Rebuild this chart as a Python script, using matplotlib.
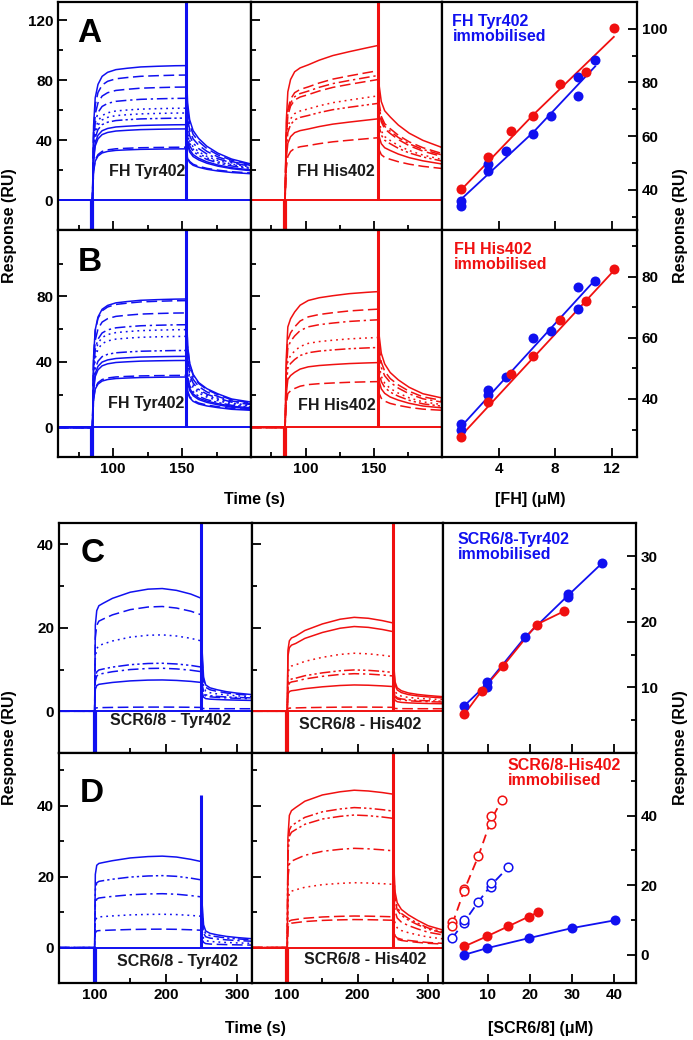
import numpy as np
import matplotlib
matplotlib.use('Agg')
import matplotlib.pyplot as plt
from matplotlib.ticker import FixedLocator

plt.rcParams['font.family'] = ['Liberation Sans', 'DejaVu Sans']
plt.rcParams['font.weight'] = 'bold'
plt.rcParams['axes.linewidth'] = 1.6

BLUE = '#1010f0'
RED = '#f01010'
INK = '#1a1a1a'

# ---------------- sensorgram data (top block, FH) ----------------
fh_t_assoc = [85, 85.8, 87, 89, 92, 96, 102, 110, 120, 132, 145, 153]
fh_t_diss = [153, 154, 155.5, 158, 162, 168, 176, 186, 200]

a_tyr_shape = [0, 0.55, 0.76, 0.86, 0.92, 0.95, 0.97, 0.98, 0.99, 0.995, 0.999, 1.0]
a_tyr_decay = [1, 0.62, 0.45, 0.34, 0.26, 0.18, 0.11, 0.05, 0]
a_tyr_plateau = [89.6, 83.3, 75.3, 67.8, 61.2, 58, 54.6, 50.2, 47.4, 35.2, 34.1]
a_tyr_tail = [24, 23.5, 23, 22.5, 22, 21.5, 21, 20, 19.5, 18, 17.5]
a_tyr_style = ['-', '--', '--', '-.', ':', ':', '-..', '-', '-', '--', '-']

a_his_shape = [0, 0.5, 0.7, 0.78, 0.83, 0.855, 0.875, 0.905, 0.935, 0.96, 0.985, 1.0]
a_his_decay = [1, 0.6, 0.45, 0.36, 0.3, 0.22, 0.14, 0.07, 0]
a_his_plateau = [103, 86.2, 83, 80.3, 69.4, 64.4, 54.1, 41.5]
a_his_tail = [35, 31, 30, 29, 27, 26, 24, 21]
a_his_style = ['-', '--', '-.', '--', ':', '-..', '-', '--']

b_tyr_shape = [0, 0.55, 0.76, 0.86, 0.92, 0.95, 0.97, 0.98, 0.99, 0.995, 0.999, 1.0]
b_tyr_decay = [1, 0.55, 0.38, 0.27, 0.19, 0.13, 0.08, 0.03, 0]
b_tyr_plateau = [78.4, 77.4, 69.9, 62.7, 59.7, 55.6, 47, 43.4, 40.9, 31.8, 30.8]
b_tyr_tail = [15.5, 15, 14.5, 14, 13.5, 13, 12.5, 12, 11.5, 11, 10.5]
b_tyr_style = ['-', '--', '--', '-.', ':', ':', '-..', '-', '-', '--', '-']

b_his_shape = [0, 0.5, 0.74, 0.8, 0.85, 0.9, 0.935, 0.955, 0.97, 0.985, 0.995, 1.0]
b_his_decay = [1, 0.58, 0.42, 0.32, 0.24, 0.17, 0.1, 0.04, 0]
b_his_plateau = [82.9, 72.2, 65.7, 54.9, 48.8, 39.6, 28]
b_his_tail = [18, 16.5, 15.5, 14, 13, 12, 10.5]
b_his_style = ['-', '--', '-.', ':', '-..', '-', '--']

# ---------------- sensorgram data (bottom block, SCR6/8) ----------------
scr_t_assoc = [100, 101, 103, 106, 112, 125, 150, 175, 195, 215, 235, 250]
scr_t_diss = [250, 251, 253, 256, 262, 272, 285, 300, 320]

c_tyr_shape = [0, 0.7, 0.82, 0.86, 0.88, 0.92, 0.97, 0.995, 1.0, 0.985, 0.955, 0.92]
c_tyr_decay = [1, 0.45, 0.18, 0.1, 0.07, 0.05, 0.03, 0.015, 0]
c_tyr_plateau = [29.4, 25.1, 18.3, 11.5, 10.3, 7.5, 1.0]
c_tyr_tail = [4.0, 3.8, 3.5, 3.2, 3.0, 2.6, 0.6]
c_tyr_style = ['-', '--', ':', '-..', '-.', '-', '--']

c_his_shape = [0, 0.65, 0.75, 0.78, 0.8, 0.86, 0.93, 0.98, 1.0, 0.99, 0.965, 0.94]
c_his_decay = [1, 0.45, 0.2, 0.12, 0.08, 0.05, 0.03, 0.015, 0]
c_his_plateau = [22.5, 20.3, 13.9, 9.9, 9.0, 6.3, 1.0]
c_his_tail = [3.5, 3.2, 2.8, 2.4, 2.2, 1.8, 0.6]
c_his_style = ['-', '-', ':', '-..', '-.', '-', '--']

d_tyr_shape = [0, 0.8, 0.9, 0.92, 0.93, 0.95, 0.98, 0.995, 1.0, 0.99, 0.965, 0.94]
d_tyr_decay = [1, 0.45, 0.18, 0.1, 0.07, 0.05, 0.03, 0.015, 0]
d_tyr_plateau = [25.8, 20.3, 15.2, 9.4, 5.2]
d_tyr_tail = [2.5, 2.2, 1.8, 1.2, 0.7]
d_tyr_style = ['-', '-..', '-.', ':', '--']

d_his_shape = [0, 0.7, 0.84, 0.87, 0.89, 0.93, 0.97, 0.99, 1.0, 0.995, 0.985, 0.975]
d_his_decay = [1, 0.5, 0.28, 0.2, 0.15, 0.11, 0.07, 0.03, 0]
d_his_plateau = [44.4, 39.5, 37.4, 28, 18.3, 8.9, 7.9]
d_his_tail = [5, 4.5, 4.2, 3.6, 2.5, 1.2, 1.0]
d_his_style = ['-', '-..', '-..', '-.', ':', '--', '--']

# ---------------- concentration series ----------------
fhA_tyr_x = [1.36, 1.36, 3.28, 3.28, 4.55, 6.47, 7.72, 9.61, 9.61, 10.84]
fhA_tyr_y = [35.8, 33.9, 49.6, 46.9, 54.3, 60.7, 67.5, 82.2, 75.0, 88.5]
fhA_his_x = [1.36, 3.28, 4.86, 6.47, 8.33, 10.2, 12.16]
fhA_his_y = [40.4, 52.2, 62.0, 67.6, 79.5, 83.9, 100.2]
fitA_tyr_x, fitA_tyr_y = [1.36, 6.47, 10.84], [36.5, 61.5, 86]
fitA_his_x, fitA_his_y = [1.36, 6.47, 12.16], [40, 68, 97]

fhB_tyr_x = [1.36, 1.36, 3.28, 3.28, 4.55, 6.47, 7.72, 9.61, 9.61, 10.84]
fhB_tyr_y = [31.7, 30.0, 42.9, 41.4, 47.2, 59.8, 62.3, 76.5, 69.3, 78.6]
fhB_his_x = [1.36, 3.28, 4.86, 6.47, 8.33, 10.2, 12.16]
fhB_his_y = [27.5, 39.0, 48.3, 54.1, 65.8, 72.1, 82.5]
fitB_tyr_x, fitB_tyr_y = [1.36, 10.84], [31, 79]
fitB_his_x, fitB_his_y = [1.36, 12.16], [28, 82]

scrC_tyr_x = [4.45, 9.8, 9.8, 18.9, 29, 29, 37.2]
scrC_tyr_y = [7.2, 10.9, 10.1, 17.7, 24.3, 23.8, 29.0]
scrC_his_x = [4.45, 8.6, 13.7, 21.6, 28]
scrC_his_y = [5.9, 9.5, 13.3, 19.6, 21.6]
fitC_tyr_x, fitC_tyr_y = [4.45, 9.8, 18.9, 29, 37.2], [7.2, 10.5, 17.7, 24.0, 29.0]
fitC_his_x, fitC_his_y = [4.45, 8.6, 13.7, 21.6, 28], [5.9, 9.5, 13.3, 19.6, 21.6]

scrD_his_open_x = [1.6, 1.6, 4.45, 4.45, 7.77, 10.8, 10.8, 13.4]
scrD_his_open_y = [9.5, 8.2, 18.9, 18.3, 28.3, 37.7, 39.8, 44.6]
scrD_tyr_open_x = [1.6, 4.45, 4.45, 7.77, 10.8, 10.8, 14.9]
scrD_tyr_open_y = [4.8, 9.1, 9.9, 15.2, 19.4, 20.6, 25.2]
scrD_his_x = [4.45, 9.8, 14.9, 19.8, 21.9]
scrD_his_y = [2.4, 5.3, 8.2, 11.0, 12.2]
scrD_tyr_x = [4.45, 9.8, 19.8, 30.1, 40.1]
scrD_tyr_y = [0.0, 1.9, 4.8, 7.7, 9.9]
lineD_his_open_x, lineD_his_open_y = [1.6, 4.45, 7.77, 10.8, 13.4], [8.8, 18.6, 28.3, 38.7, 44.6]
lineD_tyr_open_x, lineD_tyr_open_y = [1.6, 4.45, 7.77, 10.8, 14.9], [4.8, 9.5, 15.2, 20.0, 25.2]

LS = {'-': '-', '--': (0, (7, 3)), '-.': (0, (7, 2.5, 1.5, 2.5)),
      ':': (0, (1.2, 2.6)), '-..': (0, (7, 2, 1.5, 2, 1.5, 2))}

W, H = 693, 1040
fig = plt.figure(figsize=(6.93, 10.4), dpi=100)


def add_ax(x0, y0, x1, y1):
    return fig.add_axes([x0 / W, 1 - y1 / H, (x1 - x0) / W, (y1 - y0) / H])


def sensorgram(ax, color, t_start, t_end, ta, shape, td, decay, plateaus, tails, styles,
               spike_top, dip_bottom):
    ax.plot([t_start, t_end], [0, 0], color=color, lw=1.4)
    shape = np.array(shape)
    decay = np.array(decay)
    for P, R, ls in zip(plateaus, tails, styles):
        a = P * shape
        d = R + (a[-1] - R) * decay
        t = np.concatenate([[t_start], ta, td[1:]])
        y = np.concatenate([[0], a, d[1:]])
        ax.plot(t, y, color=color, lw=1.1, ls=LS[ls])
    ax.plot([td[0], td[0]], [0, spike_top], color=color, lw=2.2, solid_capstyle='butt')
    ax.plot([ta[0], ta[0]], [0, dip_bottom], color=color, lw=3, solid_capstyle='butt')


def style_ax(ax, side='left', labels=True):
    ax.tick_params(which='both', direction='in', width=1.3, labelsize=11, top=False,
                   left=(side == 'left'), right=(side == 'right'),
                   labelleft=(side == 'left' and labels), labelright=(side == 'right'))
    ax.tick_params(which='major', length=6.5)
    ax.tick_params(which='minor', length=3.5)


# ---------------- top block ----------------
axA1 = add_ax(58, 2, 251, 230)
axA2 = add_ax(251, 2, 442, 230)
axA3 = add_ax(442, 2, 637, 230)
axB1 = add_ax(58, 230, 251, 457)
axB2 = add_ax(251, 230, 442, 457)
axB3 = add_ax(442, 230, 637, 457)

sensorgram(axA1, BLUE, 60, 200, fh_t_assoc, a_tyr_shape, fh_t_diss, a_tyr_decay,
           a_tyr_plateau, a_tyr_tail, a_tyr_style, 135, -25)
sensorgram(axA2, RED, 60, 200, fh_t_assoc, a_his_shape, fh_t_diss, a_his_decay,
           a_his_plateau, a_his_tail, a_his_style, 135, -25)
sensorgram(axB1, BLUE, 60, 200, fh_t_assoc, b_tyr_shape, fh_t_diss, b_tyr_decay,
           b_tyr_plateau, b_tyr_tail, b_tyr_style, 125, -25)
sensorgram(axB2, RED, 60, 200, fh_t_assoc, b_his_shape, fh_t_diss, b_his_decay,
           b_his_plateau, b_his_tail, b_his_style, 125, -25)

for ax, ylim, majors in [(axA1, (-20, 132), [0, 40, 80, 120]), (axA2, (-20, 132), [0, 40, 80, 120]),
                         (axB1, (-18, 120.5), [0, 40, 80]), (axB2, (-18, 120.5), [0, 40, 80])]:
    ax.set_xlim(60, 200)
    ax.set_ylim(*ylim)
    ax.xaxis.set_major_locator(FixedLocator([100, 150]))
    ax.xaxis.set_minor_locator(FixedLocator([75, 125, 175]))
    ax.yaxis.set_major_locator(FixedLocator(majors))
    ax.yaxis.set_minor_locator(FixedLocator([20, 60, 100]))
    style_ax(ax, 'left', labels=ax in (axA1, axB1))
for ax in (axA1, axA2):
    ax.tick_params(labelbottom=False)

axA1.text(82.5, 111, 'A', fontsize=24, ha='center', va='center', color='black')
axB1.text(83.2, 100.7, 'B', fontsize=24, ha='center', va='center', color='black')
axA1.text(124.5, 19.3, 'FH Tyr402', fontsize=11.5, ha='center', va='center', color=INK)
axA2.text(122.3, 18.7, 'FH His402', fontsize=11.5, ha='center', va='center', color=INK)
axB1.text(124, 14.8, 'FH Tyr402', fontsize=11.5, ha='center', va='center', color=INK)
axB2.text(123, 13.4, 'FH His402', fontsize=11.5, ha='center', va='center', color=INK)

mk = dict(marker='o', ms=7.2, ls='none', mec='none')
axA3.plot(fitA_his_x, fitA_his_y, color=RED, lw=1.3)
axA3.plot(fitA_tyr_x, fitA_tyr_y, color=BLUE, lw=1.3)
axA3.plot(fhA_tyr_x, fhA_tyr_y, color=BLUE, **mk)
axA3.plot(fhA_his_x, fhA_his_y, color=RED, **mk)
axB3.plot(fitB_his_x, fitB_his_y, color=RED, lw=1.3)
axB3.plot(fitB_tyr_x, fitB_tyr_y, color=BLUE, lw=1.3)
axB3.plot(fhB_tyr_x, fhB_tyr_y, color=BLUE, **mk)
axB3.plot(fhB_his_x, fhB_his_y, color=RED, **mk)

axA3.set_ylim(25, 110)
axB3.set_ylim(21, 95.3)
for ax in (axA3, axB3):
    ax.set_xlim(0, 13.8)
    ax.xaxis.set_major_locator(FixedLocator([4, 8, 12]))
    ax.yaxis.set_major_locator(FixedLocator([40, 60, 80, 100]))
    ax.yaxis.set_minor_locator(FixedLocator([30, 50, 70, 90]))
    style_ax(ax, 'right')
axA3.tick_params(labelbottom=False)
axA3.text(0.74, 105.5, 'FH Tyr402\nimmobilised', color=BLUE, fontsize=11.5,
          ha='left', va='top', linespacing=1.0)
axB3.text(0.82, 91.5, 'FH His402\nimmobilised', color=RED, fontsize=11.5,
          ha='left', va='top', linespacing=1.0)

# ---------------- bottom block ----------------
axC1 = add_ax(59, 523, 252, 753)
axC2 = add_ax(252, 523, 443, 753)
axC3 = add_ax(443, 523, 636, 753)
axD1 = add_ax(59, 753, 252, 983)
axD2 = add_ax(252, 753, 443, 983)
axD3 = add_ax(443, 753, 636, 983)

sensorgram(axC1, BLUE, 50, 322, scr_t_assoc, c_tyr_shape, scr_t_diss, c_tyr_decay,
           c_tyr_plateau, c_tyr_tail, c_tyr_style, 50, -12)
sensorgram(axC2, RED, 50, 322, scr_t_assoc, c_his_shape, scr_t_diss, c_his_decay,
           c_his_plateau, c_his_tail, c_his_style, 50, -12)
sensorgram(axD1, BLUE, 50, 322, scr_t_assoc, d_tyr_shape, scr_t_diss, d_tyr_decay,
           d_tyr_plateau, d_tyr_tail, d_tyr_style, 43, -12)
sensorgram(axD2, RED, 50, 322, scr_t_assoc, d_his_shape, scr_t_diss, d_his_decay,
           d_his_plateau, d_his_tail, d_his_style, 60, -12)

for ax, ylim, minors in [(axC1, (-10, 45.1), [10, 30]), (axC2, (-10, 45.1), [10, 30]),
                         (axD1, (-10, 54.9), [10, 30, 50]), (axD2, (-10, 54.9), [10, 30, 50])]:
    ax.set_xlim(50, 321)
    ax.set_ylim(*ylim)
    ax.xaxis.set_major_locator(FixedLocator([100, 200, 300]))
    ax.xaxis.set_minor_locator(FixedLocator([150, 250]))
    ax.yaxis.set_major_locator(FixedLocator([0, 20, 40]))
    ax.yaxis.set_minor_locator(FixedLocator(minors))
    style_ax(ax, 'left', labels=ax in (axC1, axD1))
for ax in (axC1, axC2):
    ax.tick_params(labelbottom=False)

axC1.text(97.7, 37.8, 'C', fontsize=24, ha='center', va='center', color='black')
axD1.text(96.3, 43.6, 'D', fontsize=24, ha='center', va='center', color='black')
axC1.text(206, -2.3, 'SCR6/8 - Tyr402', fontsize=11.5, ha='center', va='center', color=INK)
axC2.text(203, -3.2, 'SCR6/8 - His402', fontsize=11.5, ha='center', va='center', color=INK)
axD1.text(217, -3.9, 'SCR6/8 - Tyr402', fontsize=11.5, ha='center', va='center', color=INK)
axD2.text(210, -3.5, 'SCR6/8 - His402', fontsize=11.5, ha='center', va='center', color=INK)

axC3.plot(fitC_tyr_x, fitC_tyr_y, color=BLUE, lw=1.3)
axC3.plot(fitC_his_x, fitC_his_y, color=RED, lw=1.3)
axC3.plot(scrC_tyr_x, scrC_tyr_y, color=BLUE, **mk)
axC3.plot(scrC_his_x, scrC_his_y, color=RED, **mk)

dash = (0, (5, 3))
axD3.plot(lineD_his_open_x, lineD_his_open_y, color=RED, lw=1.3, ls=dash)
axD3.plot(lineD_tyr_open_x, lineD_tyr_open_y, color=BLUE, lw=1.3, ls=dash)
axD3.plot(scrD_his_x, scrD_his_y, color=RED, lw=1.3, marker='o', ms=7.2, mec='none')
axD3.plot(scrD_tyr_x, scrD_tyr_y, color=BLUE, lw=1.3, marker='o', ms=7.2, mec='none')
axD3.plot(scrD_his_open_x, scrD_his_open_y, ls='none', marker='o', ms=6.2, mfc='white',
          mec=RED, mew=1.1)
axD3.plot(scrD_tyr_open_x, scrD_tyr_open_y, ls='none', marker='o', ms=6.2, mfc='white',
          mec=BLUE, mew=1.1)

axC3.set_ylim(0, 35.1)
axD3.set_ylim(-8.1, 58)
for ax in (axC3, axD3):
    ax.set_xlim(-0.6, 45.2)
    ax.xaxis.set_major_locator(FixedLocator([10, 20, 30, 40]))
    style_ax(ax, 'right')
axC3.yaxis.set_major_locator(FixedLocator([10, 20, 30]))
axC3.yaxis.set_minor_locator(FixedLocator([5, 15, 25]))
axD3.yaxis.set_major_locator(FixedLocator([0, 20, 40]))
axD3.yaxis.set_minor_locator(FixedLocator([10, 30, 50]))
axC3.tick_params(labelbottom=False)
axC3.text(2.9, 33.8, 'SCR6/8-Tyr402\nimmobilised', color=BLUE, fontsize=11.5,
          ha='left', va='top', linespacing=1.0)
axD3.text(14.8, 56.5, 'SCR6/8-His402\nimmobilised', color=RED, fontsize=11.5,
          ha='left', va='top', linespacing=1.0)

# ---------------- figure labels ----------------
for yc in (226, 748):
    fig.text(10 / W, 1 - yc / H, 'Response (RU)', rotation=90, fontsize=11.5,
             ha='center', va='center')
    fig.text(680 / W, 1 - yc / H, 'Response (RU)', rotation=90, fontsize=11.5,
             ha='center', va='center')
fig.text(254 / W, 1 - 499 / H, 'Time (s)', fontsize=11.5, ha='center', va='center')
fig.text(530 / W, 1 - 499 / H, '[FH] (\u03bcM)', fontsize=11.5, ha='center', va='center')
fig.text(255 / W, 1 - 1028 / H, 'Time (s)', fontsize=11.5, ha='center', va='center')
fig.text(541 / W, 1 - 1028 / H, '[SCR6/8] (\u03bcM)', fontsize=11.5, ha='center', va='center')

fig.savefig('out.png', dpi=100)
